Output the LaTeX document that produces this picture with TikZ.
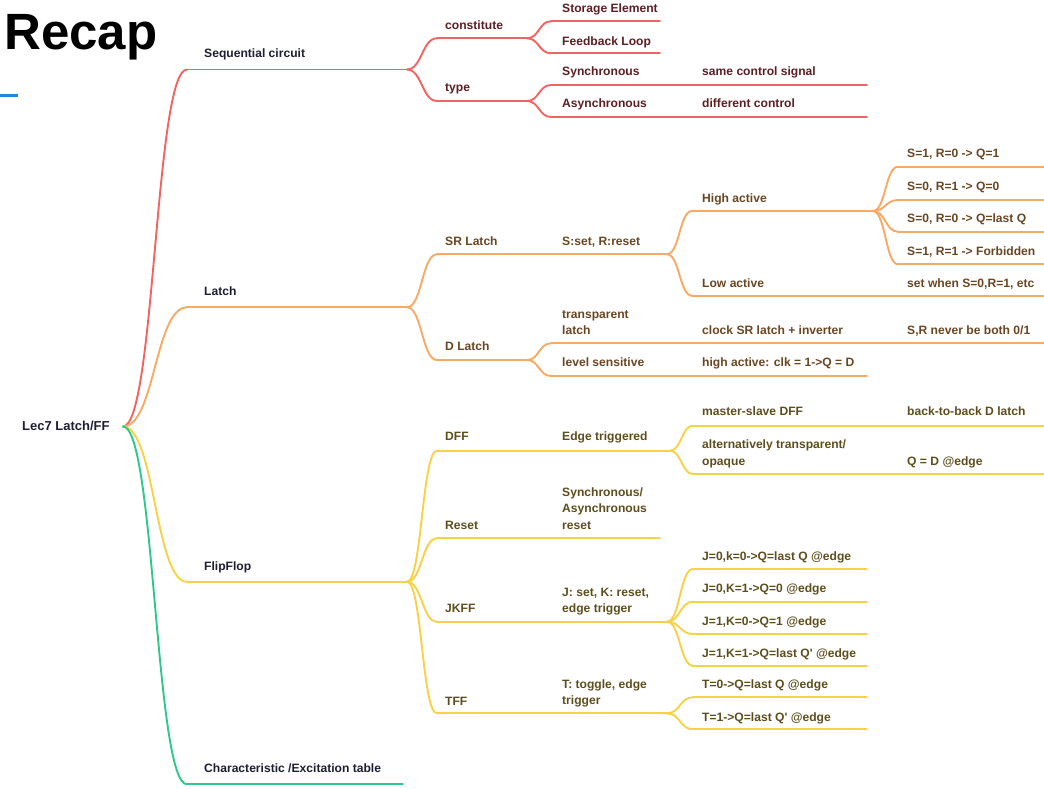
\documentclass[tikz,border=0pt]{standalone}
\usepackage{fontspec}
\setmainfont{Liberation Sans}
\usetikzlibrary{calc}
\definecolor{cR}{RGB}{244,98,98}
\definecolor{cO}{RGB}{248,170,100}
\definecolor{cY}{RGB}{247,210,70}
\definecolor{cG}{RGB}{45,200,140}
\definecolor{tN}{RGB}{30,30,50}
\definecolor{tR}{RGB}{92,30,35}
\definecolor{tO}{RGB}{105,70,35}
\definecolor{tY}{RGB}{92,78,28}
\definecolor{cB}{RGB}{30,136,229}
\tikzset{
  txt/.style={anchor=base west, inner sep=0pt, align=left, font=\bfseries\fontsize{12.1}{16.2}\selectfont},
  txN/.style={txt, text=tN},
  txR/.style={txt, text=tR},
  txO/.style={txt, text=tO},
  txY/.style={txt, text=tY},
  ln/.style={line width=1.9pt, line cap=round},
  lnR/.style={ln, draw=cR},
  lnO/.style={ln, draw=cO},
  lnY/.style={ln, draw=cY},
  lnG/.style={ln, draw=cG},
  crv/.style={to path={.. controls ($(\tikztostart)!0.5!(\tikztostart -| \tikztotarget)$) and ($(\tikztotarget)!0.5!(\tikztotarget -| \tikztostart)$) .. (\tikztotarget)}}
}
% name, line style, text style, text x, baseline, line xL, line xR, line y, text
\newcommand\mmtopic[9]{%
  \coordinate (#1L) at (#6,#8);
  \coordinate (#1R) at (#7,#8);
  \draw[#2] (#1L) -- (#1R);
  \node[#3] (#1) at (#4,#5) {#9};
}
\begin{document}
\begin{tikzpicture}[x=1pt,y=-1pt]
\useasboundingbox (0,0) rectangle (1044,789);
% title
\node[anchor=base west, inner sep=0pt, font=\bfseries\fontsize{51}{51}\selectfont] (title) at (4,49.5) {Recap};
\coordinate (blA) at (0,95.5);
\coordinate (blB) at (18,95.5);
\draw[line width=3pt, cB] (blA) -- (blB);
% root
\node[txN, font=\bfseries\fontsize{13}{16}\selectfont] (root) at (22,430) {Lec7 Latch/FF};
\coordinate (rootR) at (123,426.5);
% level 1
\mmtopic{seq}{lnR}{txN}{204}{57.5}{187}{407}{69.5}{Sequential circuit}
\mmtopic{latch}{lnO}{txN}{204}{295.7}{187}{407}{307.3}{Latch}
\mmtopic{ff}{lnY}{txN}{204}{570}{187}{407}{581.7}{FlipFlop}
\mmtopic{char}{lnG}{txN}{204}{772.3}{187}{403}{784.3}{Characteristic /Excitation table}
% red branch
\mmtopic{const}{lnR}{txR}{445}{29.3}{437}{527}{38.3}{constitute}
\mmtopic{type}{lnR}{txR}{445}{92}{437}{527}{101}{type}
\mmtopic{stor}{lnR}{txR}{562}{12.7}{551}{660}{21.3}{Storage Element}
\mmtopic{feed}{lnR}{txR}{562}{46}{551}{660}{53.3}{Feedback Loop}
\mmtopic{sync}{lnR}{txR}{562}{76}{551}{695}{85}{Synchronous}
\mmtopic{async}{lnR}{txR}{562}{108}{551}{695}{117}{Asynchronous}
\mmtopic{same}{lnR}{txR}{702}{76}{695}{867}{85}{same control signal}
\mmtopic{diff}{lnR}{txR}{702}{108}{695}{867}{117}{different control}
% orange branch
\mmtopic{sr}{lnO}{txO}{445}{245}{437}{550}{254.3}{SR Latch}
\mmtopic{srd}{lnO}{txO}{562}{245}{550}{667}{254.3}{S:set, R:reset}
\mmtopic{high}{lnO}{txO}{702}{202.7}{692}{873}{211}{High active}
\mmtopic{low}{lnO}{txO}{702}{287}{692}{898}{295.7}{Low active}
\mmtopic{hA}{lnO}{txO}{907}{157.7}{898}{1044}{166.7}{S=1, R=0 -> Q=1}
\mmtopic{hB}{lnO}{txO}{907}{190}{898}{1044}{200}{S=0, R=1 -> Q=0}
\mmtopic{hC}{lnO}{txO}{907}{222.3}{898}{1044}{231.7}{S=0, R=0 -> Q=last Q}
\mmtopic{hD}{lnO}{txO}{907}{255}{898}{1044}{264.3}{S=1, R=1 -> Forbidden}
\mmtopic{setw}{lnO}{txO}{907}{287}{898}{1044}{295.7}{set when S=0,R=1, etc}
\mmtopic{dl}{lnO}{txO}{445}{350.7}{437}{527}{360}{D Latch}
\mmtopic{tl}{lnO}{txO}{562}{334.3}{551}{695}{343.3}{transparent\\latch}
\mmtopic{lvl}{lnO}{txO}{562}{366.7}{551}{695}{376}{level sensitive}
\mmtopic{clk}{lnO}{txO}{702}{334.3}{695}{898}{343.3}{clock SR latch + inverter}
\mmtopic{never}{lnO}{txO}{907}{334.3}{898}{1044}{343.3}{S,R never be both 0/1}
\mmtopic{hac}{lnO}{txO}{702}{366.7}{695}{867}{376}{high active: clk = 1->Q = D}
% yellow branch
\mmtopic{dff}{lnY}{txY}{445}{440}{437}{550}{450.7}{DFF}
\mmtopic{edge}{lnY}{txY}{562}{440}{550}{670}{450.7}{Edge triggered}
\mmtopic{ms}{lnY}{txY}{702}{415}{693}{898}{425.7}{master-slave DFF}
\mmtopic{b2b}{lnY}{txY}{907}{415}{898}{1044}{425.7}{back-to-back D latch}
\mmtopic{alt}{lnY}{txY}{702}{465}{693}{898}{474}{alternatively transparent/\\opaque}
\mmtopic{qd}{lnY}{txY}{907}{465}{898}{1044}{474}{Q = D @edge}
\mmtopic{rst}{lnY}{txY}{445}{529.3}{437}{550}{538.3}{Reset}
\mmtopic{srst}{lnY}{txY}{562}{529}{550}{660}{538.3}{Synchronous/\\Asynchronous\\reset}
\mmtopic{jk}{lnY}{txY}{445}{612.7}{437}{550}{621.7}{JKFF}
\mmtopic{jkd}{lnY}{txY}{562}{612.3}{550}{667}{621.7}{J: set, K: reset,\\edge trigger}
\mmtopic{jA}{lnY}{txY}{702}{560}{693}{867}{569}{J=0,k=0->Q=last Q @edge}
\mmtopic{jB}{lnY}{txY}{702}{592.3}{693}{867}{601.7}{J=0,K=1->Q=0 @edge}
\mmtopic{jC}{lnY}{txY}{702}{625}{693}{867}{634}{J=1,K=0->Q=1 @edge}
\mmtopic{jD}{lnY}{txY}{702}{657.3}{693}{867}{665.7}{J=1,K=1->Q=last Q\textquotesingle{} @edge}
\mmtopic{tf}{lnY}{txY}{445}{705}{437}{550}{713.3}{TFF}
\mmtopic{td}{lnY}{txY}{562}{704.3}{550}{667}{713.3}{T: toggle, edge\\trigger}
\mmtopic{tA}{lnY}{txY}{702}{688.3}{693}{867}{697.3}{T=0->Q=last Q @edge}
\mmtopic{tB}{lnY}{txY}{702}{721}{693}{867}{729.3}{T=1->Q=last Q\textquotesingle{} @edge}
% connectors
\draw[lnR] (rootR) to[crv] (seqL);
\draw[lnO] (rootR) to[crv] (latchL);
\draw[lnY] (rootR) to[crv] (ffL);
\draw[lnG] (rootR) to[crv] (charL);
\draw[lnR] (seqR) to[crv] (constL);
\draw[lnR] (seqR) to[crv] (typeL);
\draw[lnR] (constR) to[crv] (storL);
\draw[lnR] (constR) to[crv] (feedL);
\draw[lnR] (typeR) to[crv] (syncL);
\draw[lnR] (typeR) to[crv] (asyncL);
\draw[lnO] (latchR) to[crv] (srL);
\draw[lnO] (latchR) to[crv] (dlL);
\draw[lnO] (srdR) to[crv] (highL);
\draw[lnO] (srdR) to[crv] (lowL);
\draw[lnO] (highR) to[crv] (hAL);
\draw[lnO] (highR) to[crv] (hBL);
\draw[lnO] (highR) to[crv] (hCL);
\draw[lnO] (highR) to[crv] (hDL);
\draw[lnO] (dlR) to[crv] (tlL);
\draw[lnO] (dlR) to[crv] (lvlL);
\draw[lnY] (ffR) to[crv] (dffL);
\draw[lnY] (ffR) to[crv] (rstL);
\draw[lnY] (ffR) to[crv] (jkL);
\draw[lnY] (ffR) to[crv] (tfL);
\draw[lnY] (edgeR) to[crv] (msL);
\draw[lnY] (edgeR) to[crv] (altL);
\draw[lnY] (jkdR) to[crv] (jAL);
\draw[lnY] (jkdR) to[crv] (jBL);
\draw[lnY] (jkdR) to[crv] (jCL);
\draw[lnY] (jkdR) to[crv] (jDL);
\draw[lnY] (tdR) to[crv] (tAL);
\draw[lnY] (tdR) to[crv] (tBL);
\end{tikzpicture}
\end{document}
